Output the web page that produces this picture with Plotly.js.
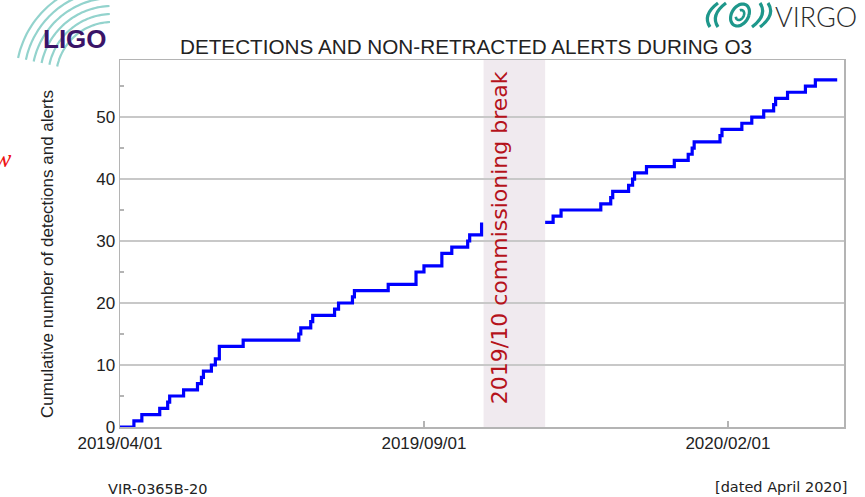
<!DOCTYPE html>
<html>
<head>
<meta charset="utf-8">
<script src="https://cdn.plot.ly/plotly-3.0.1.min.js"></script>
<style>html,body{margin:0;padding:0;background:#fff;}#chart{width:865px;height:497px;}</style>
</head>
<body>
<div id="chart"></div>
<script>
// Cumulative counts (step after each date)
const datesBeforeBreak = ['2019-04-01','2019-04-08','2019-04-12','2019-04-21','2019-04-25','2019-04-26','2019-05-03','2019-05-10','2019-05-12','2019-05-13','2019-05-17','2019-05-19','2019-05-21','2019-06-02','2019-06-30','2019-07-01','2019-07-06','2019-07-07','2019-07-18','2019-07-20','2019-07-27','2019-07-28','2019-08-14','2019-08-28','2019-09-01','2019-09-10','2019-09-15','2019-09-23','2019-09-24','2019-09-30'];
const countsBeforeBreak = [0,1,2,3,4,5,6,7,8,9,10,11,13,14,15,16,17,18,19,20,21,22,23,25,26,28,29,30,31,33];
const datesAfterBreak = ['2019-11-01','2019-11-05','2019-11-09','2019-11-29','2019-12-04','2019-12-05','2019-12-13','2019-12-15','2019-12-16','2019-12-22','2020-01-05','2020-01-12','2020-01-14','2020-01-15','2020-01-28','2020-01-29','2020-02-08','2020-02-13','2020-02-19','2020-02-24','2020-02-25','2020-03-02','2020-03-11','2020-03-16','2020-03-27'];
const countsAfterBreak = [33,34,35,36,37,38,39,40,41,42,43,44,45,46,47,48,49,50,51,52,53,54,55,56,56];

const breakStart = '2019-10-01';
const breakEnd = '2019-11-01';
const breakLabelPos = '2019-10-09 08:00';
const breakLabel = '2019/10 commissioning break';

const xTickVals = ['2019-04-01','2019-09-01','2020-02-01'];
const xTickText = ['2019/04/01','2019/09/01','2020/02/01'];
const yTickVals = [0,10,20,30,40,50];
const yMinorVals = [5,15,25,35,45,55];

const titleText = 'DETECTIONS AND NON-RETRACTED ALERTS DURING O3';
const yTitleText = 'Cumulative number of detections and alerts';
const docId = 'VIR-0365B-20';
const dateNote = '[dated April 2020]';

const lineStyle = {color:'#0000ff', width:3.2, shape:'hv'};
const traces = [
  {x:datesBeforeBreak, y:countsBeforeBreak, type:'scatter', mode:'lines', line:lineStyle, hoverinfo:'skip'},
  {x:datesAfterBreak, y:countsAfterBreak, type:'scatter', mode:'lines', line:lineStyle, hoverinfo:'skip'}
];

// decorative logo geometry helpers (pixel paths, y up)
function polyArc(cx, cy, rx, ry, a0, a1, n, skew){
  skew = skew || 0;
  let d = '';
  for(let i=0;i<=n;i++){
    const a = (a0 + (a1-a0)*i/n)*Math.PI/180;
    const yy = cy + ry*Math.sin(a);
    const xx = cx + rx*Math.cos(a) + skew*yy;
    d += (i===0?'M':'L') + xx.toFixed(1) + ',' + yy.toFixed(1) + ' ';
  }
  return d;
}
const W = 724, H = 367, L = 120, T = 60;
const px = x => (x - L)/W;
const py = y => (T + H - y)/H;

const shapes = [
  {type:'rect', xref:'x', yref:'paper', x0:breakStart, x1:breakEnd, y0:0, y1:1, fillcolor:'#f0eaef', line:{width:0}, layer:'between'}
];
const ligoBase = {type:'path', xref:'paper', yref:'paper', xsizemode:'pixel', ysizemode:'pixel', xanchor:px(112), yanchor:py(78)};
[56,64,72,80,88,96].forEach(r => {
  shapes.push(Object.assign({}, ligoBase, {path:polyArc(0,0,r,r,92,168,40), line:{color:'#93d3cd', width:2.2}}));
});
// Virgo swirl
const vBase = {type:'path', xref:'paper', yref:'paper', xsizemode:'pixel', ysizemode:'pixel', xanchor:px(740), yanchor:py(15)};
const vLine = {color:'#1e978b', width:3.2};
['M-22,12 Q-38,0 -30,-12','M-14,12 Q-30,0 -22,-12','M20,12 Q28,0 12,-12','M28,12 Q36,0 20,-12'].forEach(d => {
  shapes.push(Object.assign({}, vBase, {path:d, line:vLine}));
});
shapes.push(Object.assign({}, vBase, {path:polyArc(0,0,9,11,0,360,48,0.25), line:vLine}));
shapes.push(Object.assign({}, vBase, {path:polyArc(0,0,4,5,200,470,30,0.25), line:{color:'#1e978b', width:2.6}}));

const annotations = [
  {text:breakLabel, xref:'x', yref:'paper', x:breakLabelPos, y:0.515, textangle:-90, showarrow:false,
   xanchor:'center', yanchor:'middle', font:{family:'DejaVu Sans', size:22, color:'#b5121b'}},
  {text:yTitleText, xref:'paper', yref:'paper', x:px(47), y:py(254), textangle:-90, showarrow:false,
   xanchor:'center', yanchor:'middle', font:{family:'Liberation Sans, Arial', size:17, color:'#222'}},
  {text:docId, xref:'paper', yref:'paper', x:px(106), y:py(489), xanchor:'left', yanchor:'middle', showarrow:false,
   font:{family:'DejaVu Sans', size:14.5, color:'#222'}},
  {text:dateNote, xref:'paper', yref:'paper', x:px(849), y:py(487), xanchor:'right', yanchor:'middle', showarrow:false,
   font:{family:'DejaVu Sans', size:14.5, color:'#222'}},
  {text:'<b>LIGO</b>', xref:'paper', yref:'paper', x:px(75), y:py(39), xanchor:'center', yanchor:'middle', showarrow:false,
   font:{family:'Liberation Sans, Arial', size:26, color:'#3a1468'}},
  {text:'VIRGO', xref:'paper', yref:'paper', x:px(816), y:py(17), xanchor:'center', yanchor:'middle', showarrow:false,
   font:{family:'Lato', size:27, color:'#2b2b2b', weight:300}},
  {text:'<i>w</i>', xref:'paper', yref:'paper', x:px(-8), y:py(158), xanchor:'left', yanchor:'middle', showarrow:false,
   font:{family:'Liberation Serif', size:26, color:'#ee1111'}}
];

const layout = {
  width:865, height:497,
  margin:{l:120, r:21, t:60, b:70},
  paper_bgcolor:'#ffffff', plot_bgcolor:'#ffffff',
  showlegend:false,
  title:{text:titleText, x:466/865, xanchor:'center', xref:'container', y:1-47/497, yanchor:'middle',
    font:{family:'Liberation Sans, Arial', size:20.7, color:'#222'}},
  xaxis:{type:'date', range:['2019-04-01','2020-03-30 10:00'], tickmode:'array', tickvals:xTickVals, ticktext:xTickText,
    ticks:'inside', ticklen:6, tickcolor:'#b4b4b4', tickwidth:1.5, showgrid:false, zeroline:false,
    showline:true, mirror:true, linecolor:'#b4b4b4', linewidth:1.5,
    tickfont:{family:'Liberation Sans, Arial', size:17, color:'#222'}},
  yaxis:{range:[0,59.2], tickmode:'array', tickvals:yTickVals, ticks:'', showgrid:true, gridcolor:'#c8c8c8', gridwidth:1.5,
    zeroline:false, showline:true, mirror:true, linecolor:'#b4b4b4', linewidth:1.5,
    minor:{tickmode:'array', tickvals:yMinorVals, ticks:'inside', ticklen:4, tickcolor:'#b4b4b4', tickwidth:1.2, showgrid:false},
    tickfont:{family:'Liberation Sans, Arial', size:17, color:'#222'}},
  shapes:shapes,
  annotations:annotations
};

Plotly.newPlot('chart', traces, layout, {displayModeBar:false, staticPlot:true});
</script>
</body>
</html>
